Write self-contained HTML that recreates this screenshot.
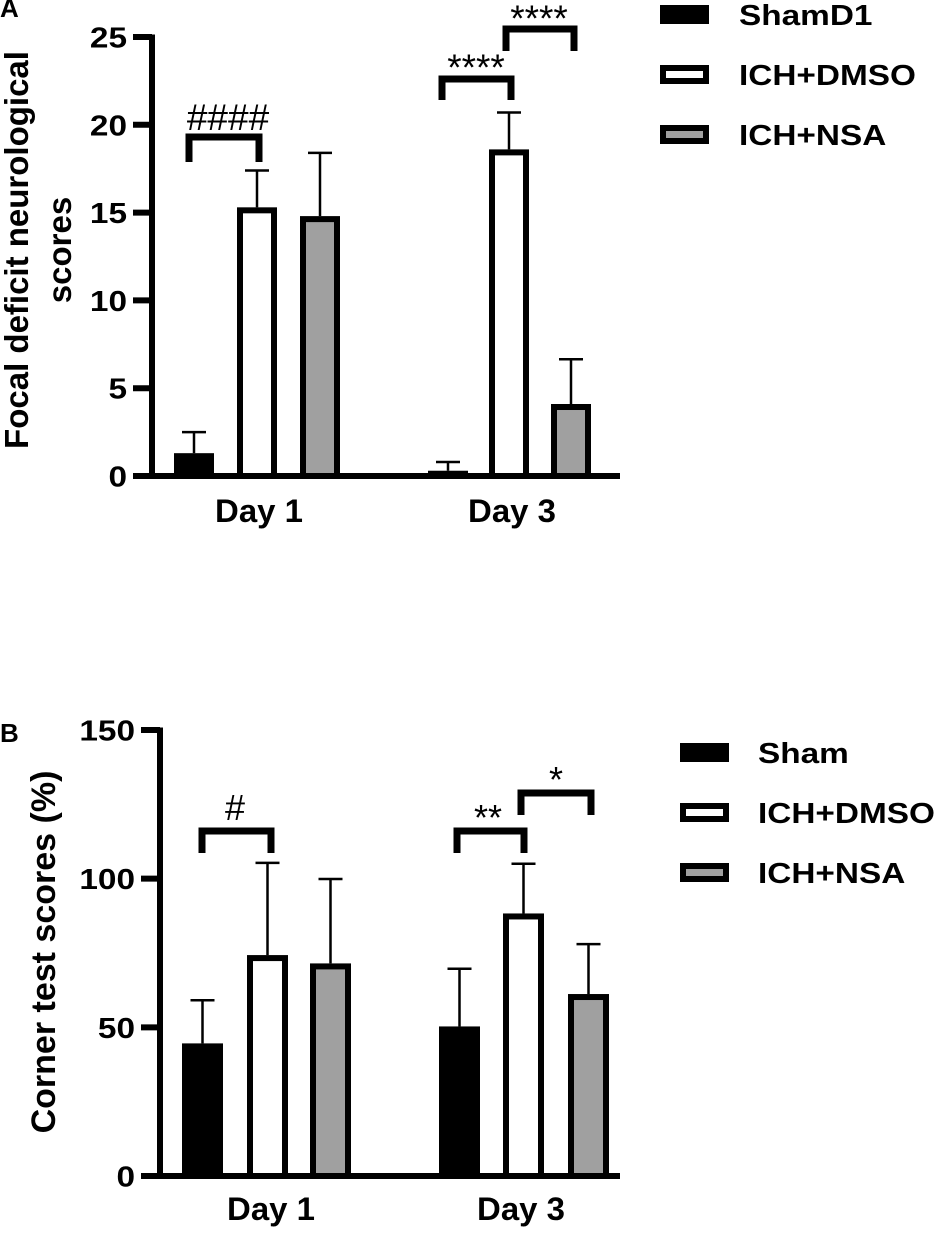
<!DOCTYPE html>
<html><head><meta charset="utf-8"><style>
html,body{margin:0;padding:0;background:#fff;}
svg{display:block;font-family:"Liberation Sans",Arial,sans-serif;font-weight:bold;}
</style></head><body>
<svg id="chart" width="950" height="1233" viewBox="0 0 950 1233" xmlns="http://www.w3.org/2000/svg">
<g id="pa"></g>
<g id="pb"></g>
</svg>
<script>
const categories = ["Day 1", "Day 3"];
const seriesNamesA = ["ShamD1", "ICH+DMSO", "ICH+NSA"];
const seriesNamesB = ["Sham", "ICH+DMSO", "ICH+NSA"];
const aMeans = [[1.3, 15.3, 14.8], [0.3, 18.6, 4.1]];
const aErrTop = [[2.5, 17.4, 18.4], [0.8, 20.7, 6.65]];
const aTicks = [0, 5, 10, 15, 20, 25];
const bMeans = [[44.6, 74.3, 71.5], [50.3, 88.3, 61.2]];
const bErrTop = [[59.1, 105.3, 99.9], [69.7, 105, 78]];
const bTicks = [0, 50, 100, 150];

const NS = "http://www.w3.org/2000/svg";
const fills = ["#000", "#fff", "#a0a0a0"];
function mk(parent, tag, attrs, text) {
  const e = document.createElementNS(NS, tag);
  for (const k in attrs) e.setAttribute(k, attrs[k]);
  if (text !== undefined) e.textContent = text;
  parent.appendChild(e);
  return e;
}
function txt(parent, x, y, s, size, sx, anchor, extra) {
  const a = {x: 0, y: 0, transform: `translate(${x},${y}) scale(${sx},1)`, "font-size": size, "text-anchor": anchor};
  for (const k in (extra || {})) a[k] = extra[k];
  return mk(parent, "text", a, s);
}

function drawPanel(g, cfg) {
  const y = v => cfg.y0 - (v / cfg.max) * (cfg.y0 - cfg.yTop);
  let e = mk(g, "line", {x1: cfg.ax, y1: cfg.yTop - 2.5, x2: cfg.ax, y2: cfg.y0 + 3, stroke: "#000", "stroke-width": 6});
  
  
  e = mk(g, "line", {x1: cfg.ax - 3, y1: cfg.y0, x2: cfg.axEnd, y2: cfg.y0, stroke: "#000", "stroke-width": 6});
  
  
  cfg.ticks.forEach(t => {
    const ty = y(t);
    let l = mk(g, "line", {x1: cfg.ax - 19, y1: ty, x2: cfg.ax, y2: ty, stroke: "#000", "stroke-width": 6});
    
    
    let tx = txt(g, cfg.ax - 25, ty + 10.5, String(t), 29, 1.15, "end");
    
    
  });
  cfg.means.forEach((grp, ci) => {
    grp.forEach((v, si) => {
      const x = cfg.barX[ci][si];
      const cx = x + cfg.bw / 2;
      const et = y(cfg.err[ci][si]);
      let eb = mk(g, "line", {x1: cx, y1: y(v), x2: cx, y2: et, stroke: "#000", "stroke-width": 2.5});
      
      
      let ec = mk(g, "line", {x1: cx - 12, y1: et, x2: cx + 12, y2: et, stroke: "#000", "stroke-width": 2.5});
      
      
      const top = y(v);
      let r = mk(g, "rect", {x: x + 3, y: top + 3, width: cfg.bw - 6, height: Math.max(cfg.y0 - top - 3, 0.5), fill: fills[si], stroke: "#000", "stroke-width": 6});
      
      
    });
    let cl = txt(g, cfg.catX[ci], cfg.catY, categories[ci], 32, 1.03, "middle");
    
    
  });
  cfg.brackets.forEach(b => {
    let p = mk(g, "path", {d: `M${b.x1},${b.yb} V${b.yt} H${b.x2} V${b.yb}`, fill: "none", stroke: "#000", "stroke-width": 7});
    
    
    let t = mk(g, "text", {x: b.tx, y: b.ty, "text-anchor": "middle", "font-size": b.fs, "font-weight": "normal"}, b.label);
    
    
  });
  cfg.names.forEach((n, i) => {
    const ly = cfg.legY + i * 60;
    let s = mk(g, "rect", {x: cfg.legX + 3, y: ly + 3, width: 43, height: 13, fill: fills[i], stroke: "#000", "stroke-width": 6});
    
    
    let t = txt(g, cfg.legX + cfg.legTx, ly + 20, n, 29, 1.15, "start");
    
    
  });
  let pl = mk(g, "text", {x: 0, y: cfg.letterY, "font-size": 26}, cfg.letter);
  
  
  const tt = mk(g, "text", {transform: `translate(${cfg.titleX},${cfg.titleCY}) rotate(-90)`, "text-anchor": "middle", "font-size": cfg.titleFs});
  
  
  cfg.title.forEach((line, i) => {
    mk(tt, "tspan", {x: 0, y: i * 43}, line);
  });
}

drawPanel(document.getElementById("pa"), {
  ax: 152, axEnd: 620, y0: 476, yTop: 37, max: 25, ticks: aTicks,
  means: aMeans, err: aErrTop, bw: 40,
  barX: [[174, 237, 300], [428, 489, 551]],
  catX: [259, 512], catY: 522,
  brackets: [
    {x1: 189, x2: 259, yt: 137, yb: 162, label: "####", tx: 228, ty: 130, fs: 37},
    {x1: 442, x2: 511, yt: 79, yb: 100, label: "****", tx: 476, ty: 80, fs: 37},
    {x1: 506, x2: 574, yt: 29, yb: 51, label: "****", tx: 539, ty: 31, fs: 37}
  ],
  names: seriesNamesA, legX: 660, legY: 5, legTx: 79,
  letter: "A", letterY: 17,
  title: ["Focal deficit neurological", "scores"], titleX: 28, titleCY: 250, titleFs: 33
});

drawPanel(document.getElementById("pb"), {
  ax: 160, axEnd: 620, y0: 1176, yTop: 730, max: 150, ticks: bTicks,
  means: bMeans, err: bErrTop, bw: 41,
  barX: [[182, 247, 310], [439, 503, 568]],
  catX: [271, 521], catY: 1220,
  brackets: [
    {x1: 202, x2: 271, yt: 831, yb: 853, label: "#", tx: 235, ty: 820, fs: 36},
    {x1: 457, x2: 524, yt: 831, yb: 853, label: "**", tx: 488, ty: 830, fs: 36},
    {x1: 521, x2: 591, yt: 793, yb: 815, label: "*", tx: 556, ty: 792, fs: 36}
  ],
  names: seriesNamesB, legX: 680, legY: 743, legTx: 78,
  letter: "B", letterY: 742,
  title: ["Corner test scores (%)"], titleX: 55, titleCY: 952, titleFs: 34
});
</script>
</body></html>
